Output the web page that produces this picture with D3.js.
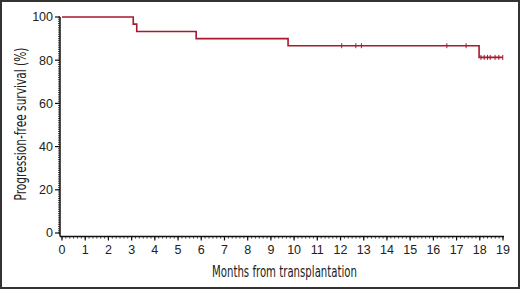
<!DOCTYPE html>
<html>
<head>
<meta charset="utf-8">
<script src="https://cdn.jsdelivr.net/npm/d3@7"></script>
<style>
  body { margin: 0; background: #fff; }
  svg text { font-family: "Liberation Sans", Arial, sans-serif; fill: #222; }
  .title { font-family: "Liberation Sans Narrow", "DejaVu Sans Condensed", sans-serif; }
</style>
</head>
<body>
<svg id="chart" width="520" height="289"></svg>
<script>
// Kaplan-Meier steps: event times (months) and survival after each event (%)
var eventMonths = [0, 3.07, 3.22, 5.78, 9.74, 17.97];
var survival    = [100, 96.7, 93.3, 90.0, 86.7, 81.3];
// censored observations (months)
var censorMonths = [12.05, 12.66, 12.9, 16.58, 17.41, 18.05, 18.19, 18.33, 18.45, 18.66, 18.82, 18.99];
var endMonth = 18.99;
var xTicks = d3.range(0, 20);
var yTicks = [0, 20, 40, 60, 80, 100];

var svg = d3.select('#chart');
var lineColor = '#a8182e';

// frame
svg.append('rect')
  .attr('x', 1).attr('y', 1)
  .attr('width', 518).attr('height', 287)
  .attr('fill', 'none')
  .attr('stroke', '#333')
  .attr('stroke-width', 2);

let x = d3.scaleLinear().domain([0, 19]).range([62, 503]);
let y = d3.scaleLinear().domain([0, 100]).range([233, 17]);

// y axis
let yAxis = svg.append('g').attr('transform', 'translate(60,0)');
yAxis.append('line')
  .attr('y1', y(100)).attr('y2', y(0) + 3.5)
  .attr('stroke', '#111').attr('stroke-width', 1.5);
yAxis.selectAll('.minor')
  .data(d3.range(0, 101, 1))
  .enter().append('line')
  .attr('x1', -2).attr('x2', 0)
  .attr('y1', d => y(d)).attr('y2', d => y(d))
  .attr('stroke', '#111').attr('stroke-width', 0.8);
yAxis.selectAll('.major')
  .data(yTicks)
  .enter().append('line')
  .attr('x1', -5).attr('x2', 0)
  .attr('y1', d => y(d)).attr('y2', d => y(d))
  .attr('stroke', '#111').attr('stroke-width', 1.2);
yAxis.selectAll('text')
  .data(yTicks)
  .enter().append('text')
  .attr('x', -7)
  .attr('y', d => y(d))
  .attr('dy', '0.35em')
  .attr('text-anchor', 'end')
  .attr('font-size', 12.5)
  .text(d => d);

// x axis
let xAxisY = 236.5;
let xAxis = svg.append('g');
xAxis.append('line')
  .attr('x1', 60).attr('x2', x(19) + 1)
  .attr('y1', xAxisY).attr('y2', xAxisY)
  .attr('stroke', '#111').attr('stroke-width', 1.5);
xAxis.selectAll('.minor')
  .data(d3.range(0, 19 * 6 + 1).map(d => d / 6))
  .enter().append('line')
  .attr('x1', d => x(d)).attr('x2', d => x(d))
  .attr('y1', xAxisY).attr('y2', xAxisY + 2)
  .attr('stroke', '#111').attr('stroke-width', 0.8);
xAxis.selectAll('.major')
  .data(xTicks)
  .enter().append('line')
  .attr('x1', d => x(d)).attr('x2', d => x(d))
  .attr('y1', xAxisY).attr('y2', xAxisY + 4)
  .attr('stroke', '#111').attr('stroke-width', 1.2);
xAxis.selectAll('text')
  .data(xTicks)
  .enter().append('text')
  .attr('x', d => x(d))
  .attr('y', 254)
  .attr('text-anchor', 'middle')
  .attr('font-size', 12.5)
  .text(d => d);

// axis titles (condensed face)
svg.append('text')
  .attr('class', 'title')
  .attr('x', 284.5).attr('y', 276.5)
  .attr('text-anchor', 'middle')
  .attr('font-size', 15.5)
  .attr('textLength', 145)
  .attr('lengthAdjust', 'spacingAndGlyphs')
  .text('Months from transplantation');
svg.append('text')
  .attr('class', 'title')
  .attr('transform', 'translate(25.5,124) rotate(-90)')
  .attr('text-anchor', 'middle')
  .attr('font-size', 15.5)
  .attr('textLength', 153)
  .attr('lengthAdjust', 'spacingAndGlyphs')
  .text('Progression-free survival (%)');

// step curve
let pts = eventMonths.map((m, i) => [m, survival[i]]);
pts.push([endMonth, survival[survival.length - 1]]);
let stepLine = d3.line()
  .x(d => x(d[0]))
  .y(d => y(d[1]))
  .curve(d3.curveStepAfter);
svg.append('path')
  .attr('d', stepLine(pts))
  .attr('fill', 'none')
  .attr('stroke', lineColor)
  .attr('stroke-width', 1.6);

// censor marks
function survAt(m) {
  let s = 100;
  for (let i = 0; i < eventMonths.length; i++) {
    if (eventMonths[i] <= m) s = survival[i];
  }
  return s;
}
svg.selectAll('.censor')
  .data(censorMonths)
  .enter().append('line')
  .attr('x1', d => x(d)).attr('x2', d => x(d))
  .attr('y1', d => y(survAt(d)) - 2.5)
  .attr('y2', d => y(survAt(d)) + 2.5)
  .attr('stroke', lineColor)
  .attr('stroke-width', 1);
</script>
</body>
</html>
